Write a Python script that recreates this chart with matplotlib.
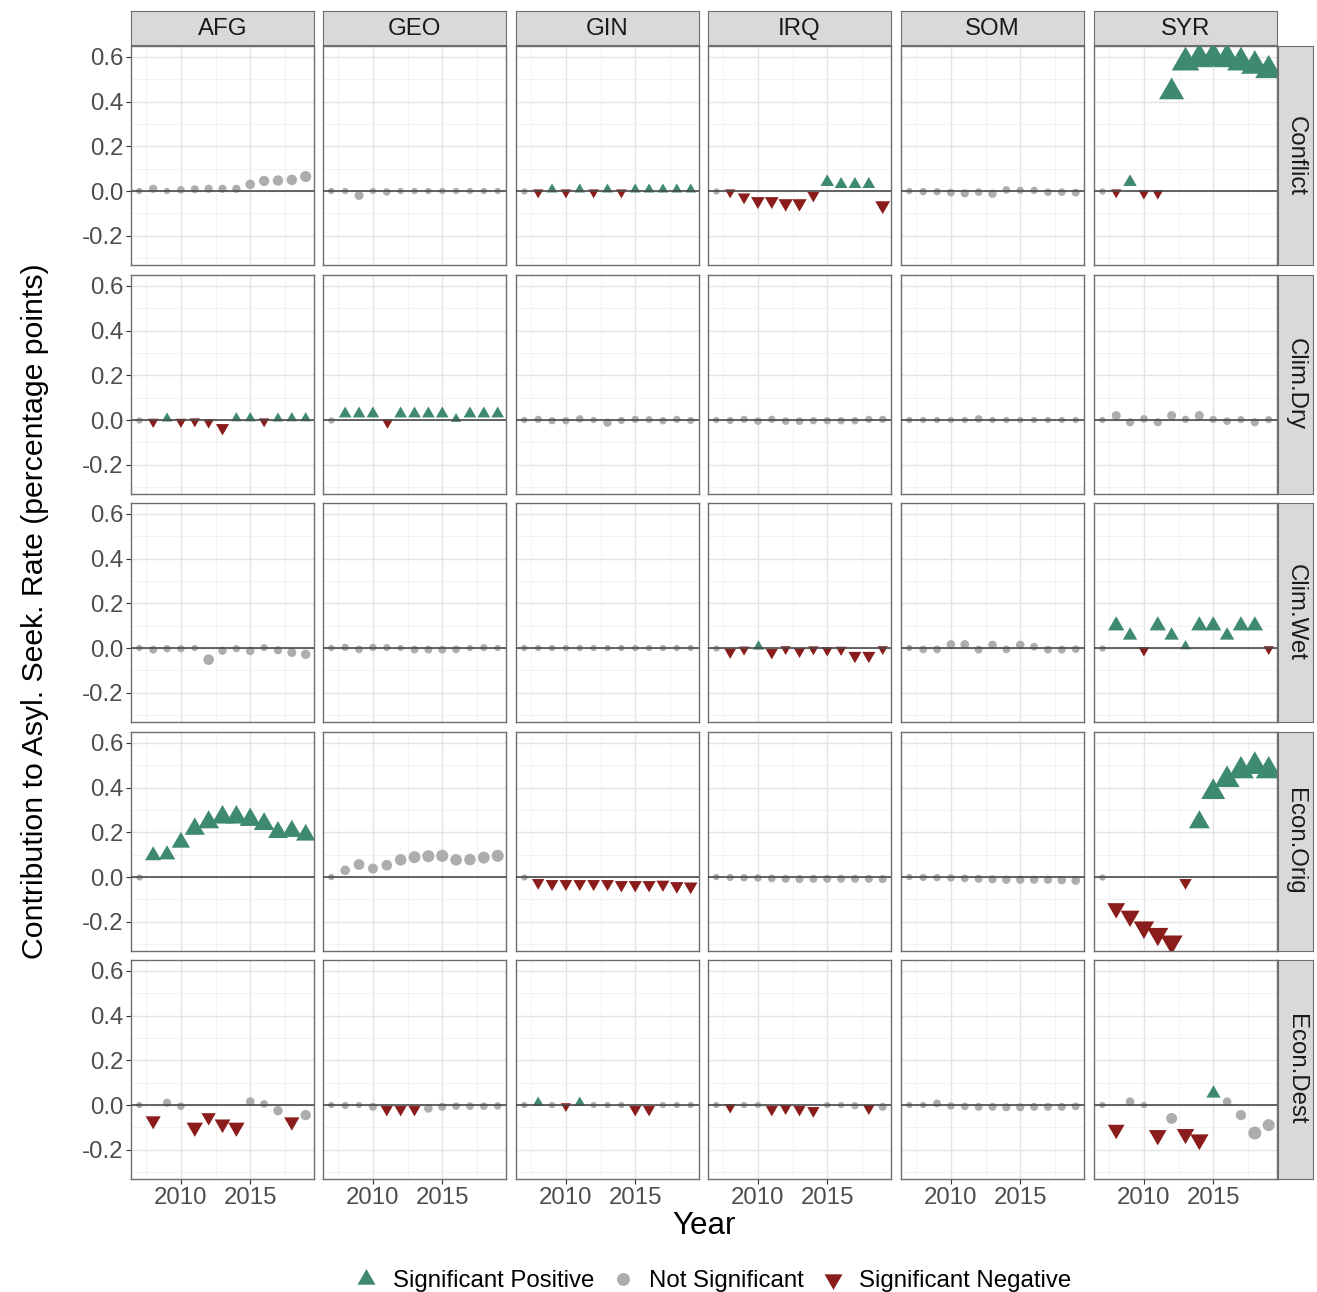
import numpy as np
import matplotlib
matplotlib.use('Agg')
import matplotlib.pyplot as plt
from matplotlib.path import Path
from matplotlib.lines import Line2D

plt.rcParams['font.family'] = ['Liberation Sans', 'DejaVu Sans']
plt.rcParams['axes.unicode_minus'] = False

countries = ['AFG', 'GEO', 'GIN', 'IRQ', 'SOM', 'SYR']
drivers = ['Conflict', 'Clim.Dry', 'Clim.Wet', 'Econ.Orig', 'Econ.Dest']
years = np.arange(2007, 2020)

# one row per country (AFG, GEO, GIN, IRQ, SOM, SYR); sig: p = positive, n = negative, . = not significant
conflict = [
    [0.0, 0.01, 0.0, 0.005, 0.008, 0.01, 0.01, 0.01, 0.03, 0.045, 0.047, 0.05, 0.065],
    [0.0, 0.0, -0.02, 0.0, -0.004, 0.0, 0.0, 0.0, 0.0, 0.0, 0.0, 0.0, 0.0],
    [0.0, -0.006, 0.007, -0.006, 0.007, -0.006, 0.007, -0.006, 0.007, 0.007, 0.007, 0.007, 0.007],
    [0.0, -0.006, -0.027, -0.045, -0.045, -0.055, -0.055, -0.02, 0.04, 0.03, 0.03, 0.03, -0.065],
    [0.0, -0.003, -0.003, -0.007, -0.01, -0.005, -0.012, 0.005, 0.003, 0.003, -0.005, -0.005, -0.007],
    [0.0, -0.006, 0.04, -0.01, -0.01, 0.443, 0.575, 0.59, 0.595, 0.59, 0.575, 0.56, 0.54],
]
conflict_sig = ['.............', '.............', '.npnpnpnppppp',
                '.nnnnnnnppppn', '.............', '.npnnpppppppp']

clim_dry = [
    [0.0, -0.008, 0.007, -0.008, -0.006, -0.01, -0.035, 0.008, 0.008, -0.006, 0.007, 0.008, 0.008],
    [0.0, 0.028, 0.028, 0.028, -0.01, 0.028, 0.028, 0.028, 0.028, 0.005, 0.028, 0.028, 0.028],
    [0.0, 0.003, -0.003, -0.003, 0.005, 0.0, -0.012, -0.002, 0.003, 0.002, -0.003, 0.003, -0.002],
    [0.0, -0.002, 0.003, -0.005, 0.003, -0.005, -0.005, -0.003, -0.003, -0.003, -0.003, 0.003, 0.003],
    [0.0, 0.0, 0.0, 0.0, 0.0, 0.005, 0.0, 0.0, 0.0, 0.0, 0.0, 0.0, 0.0],
    [0.0, 0.02, -0.01, 0.005, -0.01, 0.02, 0.003, 0.02, 0.003, -0.005, 0.002, -0.01, 0.002],
]
clim_dry_sig = ['.npnnnnppnppp', '.pppnpppppppp', '.............',
                '.............', '.............', '.............']

clim_wet = [
    [0.0, -0.007, -0.003, -0.003, 0.0, -0.052, -0.012, -0.003, -0.013, 0.002, -0.01, -0.02, -0.028],
    [0.0, 0.003, -0.006, 0.003, 0.002, 0.0, -0.007, -0.007, -0.007, -0.006, 0.0, 0.002, 0.0],
    [0.0, 0.0, 0.0, 0.0, 0.0, 0.0, 0.0, 0.0, 0.0, 0.0, 0.0, 0.0, 0.0],
    [0.0, -0.018, -0.007, 0.009, -0.02, -0.005, -0.015, -0.006, -0.01, -0.008, -0.034, -0.034, -0.005],
    [0.0, -0.006, -0.006, 0.016, 0.016, -0.007, 0.014, -0.006, 0.014, 0.006, -0.007, -0.007, -0.005],
    [0.0, 0.1, 0.056, -0.01, 0.1, 0.056, 0.008, 0.1, 0.1, 0.056, 0.1, 0.1, -0.005],
]
clim_wet_sig = ['.............', '.............', '.............',
                '.nnpnnnnnnnnn', '.............', '.ppnppppppppn']

econ_orig = [
    [0.0, 0.096, 0.1, 0.155, 0.215, 0.245, 0.267, 0.267, 0.256, 0.237, 0.2, 0.205, 0.188],
    [0.0, 0.03, 0.056, 0.038, 0.053, 0.077, 0.089, 0.093, 0.095, 0.077, 0.078, 0.087, 0.095],
    [0.0, -0.025, -0.03, -0.03, -0.03, -0.03, -0.03, -0.035, -0.035, -0.035, -0.033, -0.04, -0.042],
    [0.0, -0.002, -0.003, -0.004, -0.006, -0.008, -0.009, -0.008, -0.008, -0.008, -0.008, -0.008, -0.009],
    [0.0, -0.002, -0.003, -0.004, -0.006, -0.008, -0.01, -0.012, -0.012, -0.012, -0.012, -0.014, -0.016],
    [0.0, -0.14, -0.175, -0.225, -0.255, -0.29, -0.025, 0.245, 0.38, 0.435, 0.475, 0.495, 0.475],
]
econ_orig_sig = ['.pppppppppppp', '.............', '.nnnnnnnnnnnn',
                 '.............', '.............', '.nnnnnnpppppp']

econ_dest = [
    [0.0, -0.07, 0.01, -0.005, -0.1, -0.055, -0.085, -0.1, 0.015, 0.005, -0.025, -0.075, -0.045],
    [0.0, -0.002, 0.0, -0.008, -0.02, -0.02, -0.02, -0.015, -0.008, -0.005, -0.005, -0.005, -0.004],
    [0.0, 0.01, 0.0, -0.005, 0.01, 0.0, 0.0, 0.0, -0.02, -0.02, 0.0, 0.0, 0.0],
    [0.0, -0.01, 0.0, 0.0, -0.02, -0.015, -0.02, -0.025, 0.0, 0.0, -0.003, -0.015, -0.008],
    [0.0, 0.0, 0.007, -0.004, -0.006, -0.008, -0.008, -0.01, -0.01, -0.008, -0.008, -0.008, -0.006],
    [0.0, -0.11, 0.015, 0.0, -0.135, -0.06, -0.13, -0.155, 0.055, 0.015, -0.045, -0.125, -0.09],
]
econ_dest_sig = ['.n..nnnn...n.', '....nnn......', '.p.np...nn...',
                 '.n..nnnn...n.', '.............', '.n..n.nnp....']

values = {'Conflict': conflict, 'Clim.Dry': clim_dry, 'Clim.Wet': clim_wet,
          'Econ.Orig': econ_orig, 'Econ.Dest': econ_dest}
signif = {'Conflict': conflict_sig, 'Clim.Dry': clim_dry_sig, 'Clim.Wet': clim_wet_sig,
          'Econ.Orig': econ_orig_sig, 'Econ.Dest': econ_dest_sig}

GREEN = '#3E8A6E'
GREY = '#ADADAD'
RED = '#8B1C1C'
BORDER = '#6E6E6E'

# equilateral triangles centred on the centroid (like R's pch 17)
TRI_UP = Path([(0, 0.577), (-0.5, -0.2887), (0.5, -0.2887), (0, 0.577)], closed=True)
TRI_DOWN = Path([(0, -0.577), (-0.5, 0.2887), (0.5, 0.2887), (0, -0.577)], closed=True)

W, H = 1317, 1292
PT = 72 / 100  # points per pixel


def px_rect(x, y, w, h):
    return [x / W, 1 - (y + h) / H, w / W, h / H]


def size_px(v):
    return 6.3 + 19 * np.sqrt(np.abs(v))


fig = plt.figure(figsize=(W / 100, H / 100), dpi=100)

col_left = [131, 323, 516, 708, 901, 1094]
row_top = [46, 275, 503, 732, 960]
panel_w, panel_h = 183, 219

for i, drv in enumerate(drivers):
    for j, cty in enumerate(countries):
        ax = fig.add_axes(px_rect(col_left[j], row_top[i], panel_w, panel_h))
        ax.set_xlim(2006.4, 2019.6)
        ax.set_ylim(-0.331, 0.649)
        ax.set_xticks([2010, 2015])
        ax.set_xticks([2007.5, 2012.5, 2017.5], minor=True)
        ax.set_yticks([-0.2, 0.0, 0.2, 0.4, 0.6])
        ax.set_yticks([-0.3, -0.1, 0.1, 0.3, 0.5], minor=True)
        ax.grid(True, which='major', color='#E4E4E4', linewidth=1.0)
        ax.grid(True, which='minor', color='#F0F0F0', linewidth=0.6)
        ax.set_axisbelow(True)
        for s in ax.spines.values():
            s.set_color(BORDER)
            s.set_linewidth(1.0)
        ax.tick_params(which='minor', length=0)
        ax.tick_params(which='major', length=3.5, width=0.8, color='#333333',
                       labelsize=17.3, labelcolor='#4D4D4D', pad=2)
        if j == 0:
            ax.set_yticklabels([f'{t:.1f}' for t in [-0.2, 0.0, 0.2, 0.4, 0.6]])
        else:
            ax.tick_params(axis='y', which='major', length=0, labelleft=False)
        if i == len(drivers) - 1:
            ax.set_xticklabels(['2010', '2015'])
        else:
            ax.tick_params(axis='x', which='major', length=0, labelbottom=False)

        v = np.array(values[drv][j])
        sig = np.array(list(signif[drv][j]))
        sz = size_px(v)
        m = sig == '.'
        ax.scatter(years[m], v[m], s=(sz[m] * PT) ** 2, marker='o', color=GREY,
                   linewidths=0, zorder=3)
        m = sig == 'p'
        ax.scatter(years[m], v[m], s=(1.33 * sz[m] * PT / 0.866) ** 2, marker=TRI_UP,
                   color=GREEN, linewidths=0, zorder=3)
        m = sig == 'n'
        ax.scatter(years[m], v[m], s=(1.33 * sz[m] * PT / 0.866) ** 2, marker=TRI_DOWN,
                   color=RED, linewidths=0, zorder=3)
        ax.axhline(0, color='#4A4A4A', linewidth=1.2, zorder=4)

# facet strips
for j, cty in enumerate(countries):
    sax = fig.add_axes(px_rect(col_left[j], 11, panel_w, 34))
    sax.set_facecolor('#D9D9D9')
    sax.set_xticks([])
    sax.set_yticks([])
    for s in sax.spines.values():
        s.set_color(BORDER)
    sax.text(0.5, 0.47, cty, ha='center', va='center', fontsize=17.3, color='#1A1A1A',
             transform=sax.transAxes)

for i, drv in enumerate(drivers):
    sax = fig.add_axes(px_rect(1278, row_top[i], 35, panel_h))
    sax.set_facecolor('#D9D9D9')
    sax.set_xticks([])
    sax.set_yticks([])
    for s in sax.spines.values():
        s.set_color(BORDER)
    sax.text(0.5, 0.5, drv, ha='center', va='center', rotation=-90, fontsize=17.3,
             color='#1A1A1A', transform=sax.transAxes)

fig.text(35 / W, 1 - 611 / H, 'Contribution to Asyl. Seek. Rate (percentage points)',
         rotation=90, ha='center', va='center', fontsize=21.8, color='black')
fig.text(704 / W, 1 - 1226 / H, 'Year', ha='center', va='center', fontsize=22.5,
         color='black')

handles = [
    Line2D([], [], linestyle='', marker=TRI_UP, color=GREEN, markeredgewidth=0,
           markersize=18 * PT / 0.866),
    Line2D([], [], linestyle='', marker='o', color=GREY, markeredgewidth=0,
           markersize=13 * PT),
    Line2D([], [], linestyle='', marker=TRI_DOWN, color=RED, markeredgewidth=0,
           markersize=18 * PT / 0.866),
]
labels = ['Significant Positive', 'Not Significant', 'Significant Negative']
fig.legend(handles, labels, loc='center', bbox_to_anchor=(713 / W, 1 - 1281 / H),
           ncol=3, frameon=False, fontsize=17.3, handlelength=1.0, handletextpad=0.6,
           columnspacing=0.7, borderpad=0)

fig.savefig('out.png', dpi=100)
